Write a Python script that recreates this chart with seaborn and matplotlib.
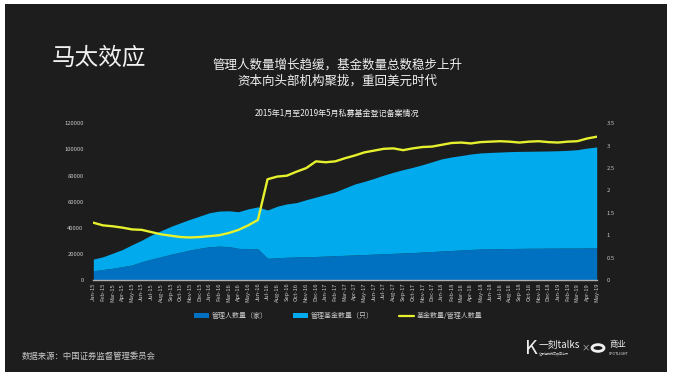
"""马太效应: 私募基金登记备案情况 (2015-01 ~ 2019-05)."""

import matplotlib
matplotlib.use("Agg")

import matplotlib.pyplot as plt
import pandas as pd
import seaborn as sns
from matplotlib.lines import Line2D
from matplotlib.patches import Circle, Patch, Rectangle
from matplotlib.ticker import FuncFormatter

# ---- data ----
months = pd.date_range("2015-01-01", "2019-05-01", freq="MS").strftime("%b-%y").tolist()

managers = [7100, 8000, 9000, 10200, 11500, 14000, 16000, 17800, 19700, 21300,
            23000, 24300, 25500, 25900, 25600, 24200, 24000, 23800, 16600, 17000,
            17400, 17600, 17800, 18000, 18300, 18600, 18900, 19200, 19500, 19800,
            20100, 20400, 20700, 21000, 21400, 21800, 22200, 22600, 23000, 23400,
            23700, 23900, 24000, 24100, 24200, 24300, 24300, 24400, 24400, 24500,
            24500, 24600, 24700]

funds = [8900, 9800, 11500, 13100, 15500, 16500, 18500, 20000, 21300, 22500,
         23500, 24700, 26000, 26900, 27400, 28100, 30500, 32200, 37000, 39500,
         40900, 41700, 43700, 45500, 47200, 48900, 51600, 54300, 56000, 58000,
         60200, 62100, 63800, 65300, 66900, 68700, 70600, 71600, 72300, 73100,
         73600, 73800, 74000, 74200, 74300, 74300, 74400, 74400, 74600, 74800,
         75300, 76400, 77200]

ratio = [1.28, 1.22, 1.20, 1.17, 1.13, 1.12, 1.07, 1.02, 0.99, 0.96,
         0.95, 0.96, 0.98, 1.00, 1.05, 1.12, 1.22, 1.34, 2.25, 2.31,
         2.33, 2.42, 2.50, 2.65, 2.63, 2.65, 2.72, 2.78, 2.85, 2.89,
         2.93, 2.94, 2.90, 2.94, 2.97, 2.98, 3.02, 3.06, 3.07, 3.05,
         3.08, 3.09, 3.10, 3.09, 3.07, 3.09, 3.10, 3.08, 3.07, 3.09,
         3.10, 3.16, 3.20]

series_labels = ["管理人数量（家）", "管理基金数量（只）", "基金数量/管理人数量"]

DARK_BLUE = "#0070c0"
LIGHT_BLUE = "#00aaec"
YELLOW = "#e6f02c"
BG = "#1d1d1d"
TXT = "#f0f0f0"
TICK = "#c8c8c8"

sns.set_theme(style="white")
plt.rcParams["font.family"] = ["Noto Sans CJK SC", "DejaVu Sans"]

fig = plt.figure(figsize=(6.73, 3.78), dpi=100)
fig.patch.set_facecolor("white")
fig.patches.append(Rectangle((5 / 673, 1 - 372 / 378), 662 / 673, 368 / 378,
                             transform=fig.transFigure, facecolor=BG,
                             edgecolor="none", zorder=-5))

ax = fig.add_axes([93.3 / 673, 1 - 280 / 378, 503.4 / 673, 156.7 / 378])
ax.set_facecolor("none")
df = pd.DataFrame({"month": months, "managers": managers, "funds": funds, "ratio": ratio})
x = list(range(len(df)))

ax.stackplot(x, df["managers"], df["funds"], colors=[DARK_BLUE, LIGHT_BLUE], linewidth=0)
ax.set_xlim(0, len(df) - 1)
ax.set_ylim(0, 120000)
ax.set_yticks(range(0, 120001, 20000))
ax.set_xticks(x)
ax.set_xticklabels(df["month"], rotation=90, fontsize=4.2, color=TICK)
ax.tick_params(axis="x", length=0, pad=2)
ax.tick_params(axis="y", length=0, pad=7, labelsize=4.2, labelcolor=TICK)
for side in ["top", "right", "left"]:
    ax.spines[side].set_visible(False)
ax.spines["bottom"].set_color("#b0b0b0")
ax.spines["bottom"].set_linewidth(1.0)
ax.grid(False)

ax2 = ax.twinx()
ax2.set_facecolor("none")
sns.lineplot(x=x, y=df["ratio"], ax=ax2, color=YELLOW, linewidth=1.7)
ax2.set_ylim(0, 3.5)
ax2.set_yticks([i * 0.5 for i in range(8)])
ax2.yaxis.set_major_formatter(FuncFormatter(lambda v, _: f"{v:g}"))
ax2.tick_params(axis="y", length=0, pad=7, labelsize=4.2, labelcolor=TICK)
ax2.set_ylabel("")
for side in ["top", "right", "left", "bottom"]:
    ax2.spines[side].set_visible(False)
ax2.grid(False)
ax.set_xlabel("")
ax.set_ylabel("")

handles = [Patch(facecolor=DARK_BLUE, edgecolor="none"),
           Patch(facecolor=LIGHT_BLUE, edgecolor="none"),
           Line2D([0], [0], color=YELLOW, linewidth=1.6)]
leg = fig.legend(handles, series_labels, ncol=3, loc="center",
                 bbox_to_anchor=(338 / 673, 1 - 316 / 378), frameon=False,
                 fontsize=5, handlelength=2.2, handleheight=0.6,
                 columnspacing=3.6, handletextpad=0.4)
for t in leg.get_texts():
    t.set_color(TICK)

# ---- slide texts ----
fig.text(52 / 673, 1 - 58 / 378, "马太效应", fontsize=17, color=TXT, va="center", ha="left")
fig.text(337 / 673, 1 - 65 / 378, "管理人数量增长趋缓，基金数量总数稳步上升",
         fontsize=9, color=TXT, ha="center", va="center")
fig.text(337 / 673, 1 - 81 / 378, "资本向头部机构聚拢，重回美元时代",
         fontsize=9, color=TXT, ha="center", va="center")
fig.text(337 / 673, 1 - 113 / 378, "2015年1月至2019年5月私募基金登记备案情况",
         fontsize=5.8, color=TXT, ha="center", va="center")
fig.text(22 / 673, 1 - 356 / 378, "数据来源：中国证券监督管理委员会",
         fontsize=6, color=TICK, ha="left", va="center")

# ---- logos (approximate) ----
fig.text(525 / 673, 1 - 348 / 378, "K", fontsize=14, color=TXT, ha="left", va="center",
         fontweight="light")
fig.text(539 / 673, 1 - 345 / 378, "一刻talks", fontsize=7, color=TXT, ha="left", va="center")
fig.text(539 / 673, 1 - 354 / 378, "让思想的光芒照亮世界", fontsize=2.2, color=TICK,
         ha="left", va="center")
fig.text(586 / 673, 1 - 348 / 378, "×", fontsize=6, color=TICK, ha="center", va="center")
fig.patches.append(Circle((598 / 673, 1 - 348 / 378), 6 / 673, transform=fig.transFigure,
                          facecolor="none", edgecolor=TXT, linewidth=2.0))
fig.text(609 / 673, 1 - 344 / 378, "商业", fontsize=6, color=TXT, ha="left", va="center")
fig.text(609 / 673, 1 - 354 / 378, "SPOTLIGHT", fontsize=2.6, color=TXT, ha="left", va="center")

fig.savefig("out.png", dpi=100)
